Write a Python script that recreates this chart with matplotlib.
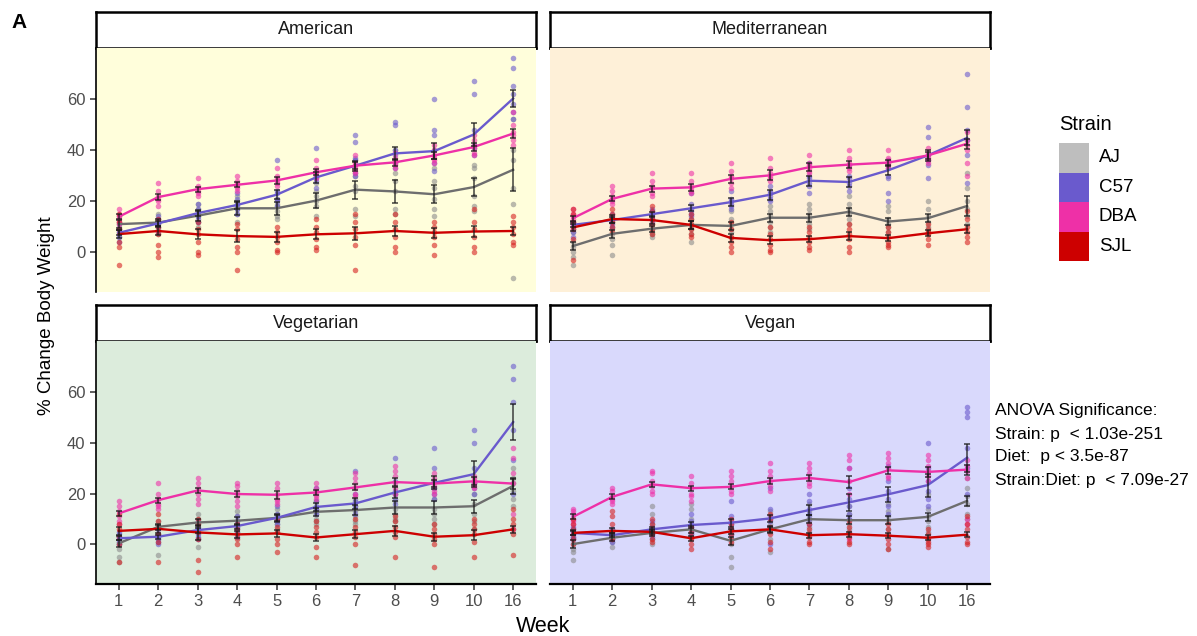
import matplotlib
matplotlib.use('Agg')
import matplotlib.pyplot as plt
from matplotlib.patches import Rectangle

plt.rcParams['font.family'] = ['Liberation Sans', 'DejaVu Sans']

# ── data ──────────────────────────────────────────────────────────────────────
weeks = ['1', '2', '3', '4', '5', '6', '7', '8', '9', '10', '16']
strains = ['AJ', 'C57', 'DBA', 'SJL']
diets = ['American', 'Mediterranean', 'Vegetarian', 'Vegan']

# American
amer_aj_mean = [11.0, 11.6, 14.3, 17.2, 17.2, 20.2, 24.5, 23.8, 22.7, 25.5, 32.3]
amer_c57_mean = [7.6, 11.3, 15.3, 18.5, 22.5, 29.3, 33.9, 38.7, 39.6, 46.1, 60.2]
amer_dba_mean = [13.9, 21.6, 24.7, 26.4, 28.1, 31.3, 33.9, 35.2, 37.9, 41.2, 46.5]
amer_sjl_mean = [7.1, 8.3, 7.0, 6.3, 6.0, 7.0, 7.4, 8.3, 7.6, 8.1, 8.3]
amer_aj_se = [1.5, 1.5, 2.0, 2.5, 2.5, 3.0, 3.5, 4.5, 3.5, 3.5, 8.5]
amer_c57_se = [1.0, 1.0, 1.2, 1.5, 1.8, 2.0, 2.0, 2.5, 3.0, 4.5, 3.5]
amer_dba_se = [1.0, 1.2, 1.0, 1.0, 1.2, 1.2, 1.3, 1.3, 1.5, 1.5, 1.8]
amer_sjl_se = [1.5, 1.5, 2.0, 2.5, 2.0, 2.0, 2.5, 2.0, 2.0, 2.0, 1.5]
amer_aj_pts = [[12, 10, 8, 14, 6, 9], [13, 11, 7, 15, 9, 12], [19, 16, 12, 10, 14, 17],
               [22, 19, 15, 12, 20, 17], [21, 18, 14, 13, 19, 16], [27, 22, 18, 14, 20, 24],
               [36, 30, 24, 17, 14, 26], [40, 31, 24, 17, 15, 28], [33, 28, 21, 14, 17, 25],
               [33, 29, 22, 18, 16, 34], [52, 40, 36, 25, 19, -10]]
amer_c57_pts = [[9, 6, 4, 8, 11, 7], [13, 10, 8, 14, 11, 12], [17, 14, 12, 19, 15, 13],
                [21, 18, 15, 23, 17, 19], [36, 24, 20, 18, 21, 23], [41, 32, 28, 25, 30, 29],
                [46, 43, 36, 31, 30, 37], [51, 50, 40, 35, 33, 38], [60, 48, 46, 40, 32, 35],
                [67, 62, 48, 42, 38, 41], [76, 72, 65, 58, 55, 52, 62]]
amer_dba_pts = [[17, 15, 13, 11, 14, 12], [27, 24, 21, 18, 22, 20], [29, 26, 24, 22, 25, 23],
                [30, 28, 26, 24, 27, 25], [33, 30, 28, 26, 29, 27], [36, 33, 31, 29, 32, 30],
                [38, 35, 33, 31, 34, 32], [39, 37, 35, 33, 36, 34], [42, 40, 37, 35, 38, 36],
                [46, 44, 41, 39, 42, 38], [55, 50, 47, 44, 46, 42]]
amer_sjl_pts = [[15, 12, 9, 4, 2, -5], [13, 10, 7, 3, 0, -2], [12, 9, 7, 4, 0, -1],
                [11, 9, 5, 2, 0, -7], [10, 8, 6, 4, 1, 0], [13, 10, 8, 5, 2, 1],
                [15, 12, 9, 6, 3, -7], [15, 12, 9, 6, 2, 0], [12, 10, 8, 6, 3, -1],
                [17, 12, 9, 6, 2, 0], [14, 12, 10, 7, 4, 3]]

# Mediterranean
med_aj_mean = [2.4, 7.2, 9.2, 10.7, 10.3, 13.5, 13.5, 15.8, 12.0, 13.3, 18.1]
med_c57_mean = [10.7, 12.6, 14.9, 17.2, 19.6, 22.5, 28.0, 27.5, 32.1, 37.9, 44.8]
med_dba_mean = [13.3, 20.9, 24.9, 25.4, 28.7, 30.1, 33.3, 34.3, 35.1, 37.9, 42.5]
med_sjl_mean = [9.7, 13.0, 12.6, 10.7, 5.6, 4.7, 5.1, 6.3, 5.5, 7.4, 9.0]
med_aj_se = [1.5, 1.5, 1.2, 1.5, 1.5, 1.5, 1.5, 1.5, 1.5, 1.5, 4.0]
med_c57_se = [1.0, 1.0, 1.0, 1.2, 1.5, 2.0, 2.0, 2.0, 2.0, 2.0, 3.0]
med_dba_se = [1.0, 1.0, 1.2, 1.5, 1.5, 2.0, 1.5, 1.5, 1.2, 1.5, 2.0]
med_sjl_se = [1.5, 1.5, 1.5, 1.5, 1.5, 1.5, 1.2, 1.5, 1.2, 1.2, 1.5]
med_aj_pts = [[8, 4, 2, 0, -2, -5], [12, 9, 7, 5, 3, -1], [13, 11, 9, 8, 7, 6],
              [13, 11, 10, 9, 7, 4], [16, 13, 11, 9, 8, 6], [18, 16, 14, 12, 10, 8],
              [19, 17, 15, 13, 11, 9], [22, 19, 17, 15, 13, 11], [18, 16, 13, 11, 10, 8],
              [20, 17, 14, 12, 10, 8], [31, 25, 20, 17, 14, 11]]
med_c57_pts = [[12, 10, 8, 6, 11, 9], [15, 13, 12, 10, 14, 11], [17, 15, 14, 13, 16, 12],
               [23, 19, 17, 15, 16, 14], [24, 21, 19, 18, 20, 17], [26, 24, 22, 20, 23, 21],
               [35, 30, 27, 23, 26, 29], [34, 30, 27, 24, 26, 29], [36, 33, 30, 29, 23, 20],
               [49, 45, 38, 36, 29, 34], [70, 57, 48, 44, 38, 27]]
med_dba_pts = [[17, 15, 13, 12, 14, 11], [26, 24, 21, 19, 22, 20], [31, 28, 25, 23, 26, 22],
               [31, 28, 25, 23, 26, 24], [35, 32, 29, 27, 30, 25], [37, 33, 30, 28, 31, 29],
               [38, 35, 33, 31, 34, 32], [40, 37, 34, 32, 35, 33], [40, 37, 35, 33, 36, 34],
               [41, 39, 38, 35, 37, 36], [47, 44, 42, 30, 35, 40]]
med_sjl_pts = [[17, 15, 12, 9, 5, -3], [17, 15, 13, 12, 10, 8], [18, 16, 13, 11, 9, 7],
               [15, 13, 11, 9, 7, 6], [12, 9, 6, 4, 2, 0], [10, 7, 5, 3, 1, 0],
               [10, 8, 6, 4, 2, 1], [11, 9, 7, 5, 2, 0], [10, 8, 6, 4, 3, 2],
               [11, 9, 8, 7, 5, 3], [16, 13, 10, 8, 6, 4]]

# Vegetarian
veg_aj_mean = [0.4, 6.9, 8.6, 9.3, 10.4, 12.8, 13.5, 14.5, 14.5, 15.0, 23.0]
veg_c57_mean = [2.4, 3.0, 5.6, 7.2, 10.4, 14.7, 16.1, 20.4, 24.2, 27.6, 48.1]
veg_dba_mean = [12.2, 17.4, 21.2, 19.8, 19.5, 20.4, 22.4, 24.5, 23.9, 24.8, 23.9]
veg_sjl_mean = [5.3, 6.1, 4.7, 3.9, 4.3, 2.7, 4.0, 5.3, 3.0, 3.6, 5.9]
veg_aj_se = [1.5, 1.2, 1.5, 1.5, 1.5, 1.5, 2.0, 2.5, 2.5, 2.5, 3.0]
veg_c57_se = [0.8, 0.8, 1.0, 1.0, 1.2, 1.5, 2.0, 2.0, 2.5, 5.0, 7.0]
veg_dba_se = [1.0, 1.0, 1.0, 1.0, 1.5, 1.0, 1.2, 1.5, 1.5, 1.5, 2.0]
veg_sjl_se = [1.5, 1.5, 3.0, 1.5, 1.5, 1.5, 1.5, 2.0, 1.5, 2.0, 1.5]
veg_aj_pts = [[3, 1, 0, -2, -5, -7], [9, 7, 6, 4, 2, -4], [12, 10, 8, 5, 2, -1],
              [13, 11, 9, 7, 5, 3], [14, 12, 10, 8, 6, 5], [17, 14, 12, 10, 8, 9],
              [18, 15, 13, 11, 9, 8], [20, 17, 14, 12, 10, 9], [22, 18, 14, 12, 10, 8],
              [24, 20, 16, 12, 9, 6], [30, 26, 24, 21, 18, 15]]
veg_c57_pts = [[5, 3, 2, 1, 0, 4], [6, 4, 3, 2, 1, 0], [9, 7, 6, 4, 3, 2],
               [11, 9, 7, 6, 5, 3], [15, 12, 10, 9, 8, 11], [22, 17, 15, 13, 12, 14],
               [29, 20, 17, 14, 12, 15], [34, 25, 21, 18, 16, 20], [38, 30, 25, 22, 18, 20],
               [45, 40, 30, 24, 20, 22], [70, 65, 56, 45, 33, 20]]
veg_dba_pts = [[17, 15, 13, 11, 9, 8], [24, 20, 18, 16, 14, 15], [26, 24, 22, 20, 18, 16],
               [24, 23, 21, 19, 17, 15], [24, 22, 20, 18, 16, 17], [24, 22, 21, 19, 18, 20],
               [28, 26, 24, 22, 20, 19], [31, 29, 27, 24, 22, 20], [28, 26, 25, 23, 21, 20],
               [27, 26, 25, 24, 22, 23], [38, 34, 28, 24, 12, 6]]
veg_sjl_pts = [[12, 8, 6, 3, 0, -7], [12, 9, 7, 4, 1, -7], [10, 8, 5, 2, -6, -11],
               [8, 6, 4, 2, 0, -5], [10, 7, 5, 2, 0, -3], [9, 7, 5, 3, -1, -5],
               [10, 7, 5, 3, 0, -8], [11, 9, 7, 5, 3, -5], [8, 6, 4, 2, 0, -9],
               [10, 8, 6, 4, 1, -5], [14, 10, 8, 6, 4, -4]]

# Vegan
vegan_aj_mean = [0.1, 2.6, 4.5, 5.9, 1.4, 5.9, 9.9, 9.5, 9.5, 10.8, 17.1]
vegan_c57_mean = [4.5, 3.6, 5.9, 7.6, 8.5, 10.2, 13.5, 16.5, 19.7, 23.3, 34.1]
vegan_dba_mean = [10.8, 18.7, 23.6, 22.1, 22.6, 24.9, 26.1, 24.5, 29.1, 28.5, 29.4]
vegan_sjl_mean = [4.5, 5.3, 4.9, 2.4, 5.1, 5.9, 3.6, 4.0, 3.4, 2.6, 3.8]
vegan_aj_se = [1.5, 1.2, 1.2, 1.5, 1.5, 1.5, 1.5, 1.5, 1.5, 1.5, 2.0]
vegan_c57_se = [0.8, 0.8, 1.0, 1.0, 1.5, 1.5, 2.0, 3.5, 3.0, 4.5, 5.5]
vegan_dba_se = [1.0, 1.0, 1.0, 1.0, 1.0, 1.2, 1.2, 2.5, 1.5, 2.0, 2.0]
vegan_sjl_se = [1.0, 1.0, 1.0, 1.0, 1.0, 1.0, 1.0, 1.0, 1.0, 1.0, 1.0]
vegan_aj_pts = [[3, 2, 0, -2, -3, -6], [6, 4, 3, 2, 1, -1], [15, 12, 8, 5, 2, 0],
                [16, 14, 10, 6, 4, 3], [6, 4, 2, 0, -5, -9], [13, 10, 8, 5, 2, -3],
                [16, 13, 11, 9, 7, 5], [15, 12, 10, 8, 6, 4], [16, 13, 11, 9, 6, -2],
                [20, 14, 11, 9, 7, 5], [26, 22, 19, 16, 12, 10]]
vegan_c57_pts = [[7, 5, 4, 3, 2, 6], [6, 5, 4, 3, 2, 1], [9, 7, 6, 5, 4, 3],
                 [12, 9, 8, 7, 5, 4], [17, 11, 9, 8, 6, 4], [22, 14, 11, 9, 7, 0],
                 [20, 17, 14, 12, 10, 8], [30, 22, 18, 15, 12, 10], [31, 25, 21, 18, 15, 12],
                 [40, 30, 25, 21, 18, 15], [54, 52, 50, 38, 30, 20]]
vegan_dba_pts = [[14, 13, 12, 10, 9, 8], [22, 21, 19, 18, 17, 16], [29, 28, 25, 23, 21, 20],
                 [27, 24, 22, 20, 17, 19], [29, 27, 25, 23, 20, 21], [32, 29, 27, 25, 23, 21],
                 [32, 30, 28, 26, 24, 23], [35, 33, 30, 25, 20, 2], [36, 34, 32, 30, 27, 26],
                 [35, 33, 31, 29, 27, 25], [33, 31, 29, 26, 10, 8]]
vegan_sjl_pts = [[10, 8, 6, 4, 2, 0], [13, 11, 8, 5, 3, 2], [10, 8, 6, 4, 2, 1],
                 [7, 5, 3, 2, 0, -2], [10, 8, 6, 4, 2, 1], [12, 10, 7, 4, 1, -2],
                 [8, 6, 4, 3, 1, 0], [9, 7, 5, 3, 1, 0], [8, 6, 4, 2, 0, -2],
                 [6, 4, 2, 1, 0, -1], [11, 8, 6, 3, 1, 0]]

anova_lines = ['ANOVA Significance:', 'Strain: p  < 1.03e-251',
               'Diet:  p < 3.5e-87', 'Strain:Diet: p  < 7.09e-27']

# ── styling ───────────────────────────────────────────────────────────────────
legend_colors = {'AJ': '#BEBEBE', 'C57': '#6A5ACD', 'DBA': '#EE30A7', 'SJL': '#CD0000'}
line_colors = {'AJ': '#6E6E6E', 'C57': '#6A5ACD', 'DBA': '#EE30A7', 'SJL': '#CD0000'}
point_colors = {'AJ': '#8C8C8C', 'C57': '#6A5ACD', 'DBA': '#EE30A7', 'SJL': '#D62020'}
bg_colors = {'American': '#FFFEDB', 'Mediterranean': '#FEF0D8',
             'Vegetarian': '#DCECDC', 'Vegan': '#D9D9FC'}

panel_data = {
    'American': {'AJ': (amer_aj_mean, amer_aj_se, amer_aj_pts),
                 'C57': (amer_c57_mean, amer_c57_se, amer_c57_pts),
                 'DBA': (amer_dba_mean, amer_dba_se, amer_dba_pts),
                 'SJL': (amer_sjl_mean, amer_sjl_se, amer_sjl_pts)},
    'Mediterranean': {'AJ': (med_aj_mean, med_aj_se, med_aj_pts),
                      'C57': (med_c57_mean, med_c57_se, med_c57_pts),
                      'DBA': (med_dba_mean, med_dba_se, med_dba_pts),
                      'SJL': (med_sjl_mean, med_sjl_se, med_sjl_pts)},
    'Vegetarian': {'AJ': (veg_aj_mean, veg_aj_se, veg_aj_pts),
                   'C57': (veg_c57_mean, veg_c57_se, veg_c57_pts),
                   'DBA': (veg_dba_mean, veg_dba_se, veg_dba_pts),
                   'SJL': (veg_sjl_mean, veg_sjl_se, veg_sjl_pts)},
    'Vegan': {'AJ': (vegan_aj_mean, vegan_aj_se, vegan_aj_pts),
              'C57': (vegan_c57_mean, vegan_c57_se, vegan_c57_pts),
              'DBA': (vegan_dba_mean, vegan_dba_se, vegan_dba_pts),
              'SJL': (vegan_sjl_mean, vegan_sjl_se, vegan_sjl_pts)},
}

W, H = 1197, 636


def rect(x0, y0, x1, y1):
    # pixel box (top-left origin) -> figure fraction
    return [x0 / W, 1 - y1 / H, (x1 - x0) / W, (y1 - y0) / H]


fig = plt.figure(figsize=(W / 100, H / 100), dpi=100)

cols = [(96, 536), (550, 990)]
rows = [(12, 48, 292), (305, 341, 584)]
xpos = list(range(len(weeks)))

for i, diet in enumerate(diets):
    r, c = divmod(i, 2)
    x0, x1 = cols[c]
    s0, p0, p1 = rows[r]

    # strip
    sax = fig.add_axes(rect(x0, s0, x1, p0))
    sax.set_facecolor('white')
    sax.set_xticks([])
    sax.set_yticks([])
    for sp in sax.spines.values():
        sp.set_linewidth(1.8)
        sp.set_color('black')
    sax.text(0.5, 0.5, diet, ha='center', va='center', fontsize=13, color='#1A1A1A',
             transform=sax.transAxes)

    ax = fig.add_axes(rect(x0, p0, x1, p1))
    ax.set_facecolor(bg_colors[diet])
    ax.set_xlim(-0.58, len(weeks) - 1 + 0.58)
    ax.set_ylim(-15.6, 80)

    for strain in strains:
        mean, se, pts = panel_data[diet][strain]
        for k, vals in enumerate(pts):
            ax.scatter([xpos[k]] * len(vals), vals, s=16, color=point_colors[strain],
                       alpha=0.6, linewidths=0, zorder=2)
    for strain in strains:
        mean, se, pts = panel_data[diet][strain]
        ax.plot(xpos, mean, color=line_colors[strain], lw=1.7, zorder=3)
    for strain in strains:
        mean, se, pts = panel_data[diet][strain]
        ax.errorbar(xpos, mean, yerr=se, fmt='none', ecolor='#1A1A1A', alpha=0.65,
                    elinewidth=1.4, capsize=2.5, capthick=1.4, zorder=4)

    for sp in ['top', 'right']:
        ax.spines[sp].set_visible(False)
    ax.spines['left'].set_visible(c == 0)
    ax.spines['bottom'].set_visible(r == 1)
    ax.spines['left'].set_linewidth(1.2)
    ax.spines['bottom'].set_linewidth(1.6)

    ax.set_yticks([0, 20, 40, 60])
    if c == 0:
        ax.tick_params(axis='y', length=4, width=1.1, color='#333333',
                       labelcolor='#4D4D4D', labelsize=12)
    else:
        ax.tick_params(axis='y', left=False, labelleft=False)
    ax.set_xticks(xpos)
    if r == 1:
        ax.set_xticklabels(weeks)
        ax.tick_params(axis='x', length=4, width=1.1, color='#333333',
                       labelcolor='#4D4D4D', labelsize=12)
    else:
        ax.tick_params(axis='x', bottom=False, labelbottom=False)

# axis titles
fig.text(47 / W, 1 - 316 / H, '% Change Body Weight', rotation=90, ha='center',
         va='center', fontsize=13.5, color='black')
fig.text(543 / W, 1 - 626 / H, 'Week', ha='center', va='center', fontsize=15.5,
         color='black')
fig.text(11 / W, 1 - 22 / H, 'A', ha='left', va='center', fontsize=15,
         fontweight='bold')

# legend drawn by hand in pixel space
lax = fig.add_axes(rect(1040, 100, 1197, 280))
lax.set_xlim(1040, 1197)
lax.set_ylim(280, 100)
lax.axis('off')
lax.text(1059, 125, 'Strain', ha='left', va='center', fontsize=14.5)
key_h = 29.5
for j, strain in enumerate(strains):
    ytop = 143 + j * key_h
    lax.add_patch(Rectangle((1059, ytop), 30, key_h, facecolor=legend_colors[strain],
                            edgecolor='none'))
    lax.text(1099, ytop + key_h / 2, strain, ha='left', va='center', fontsize=13.5)

# ANOVA note
for j, line in enumerate(anova_lines):
    fig.text(995 / W, 1 - (411 + j * 23) / H, line, ha='left', va='center', fontsize=12.5)

fig.savefig('out.png', dpi=100)
